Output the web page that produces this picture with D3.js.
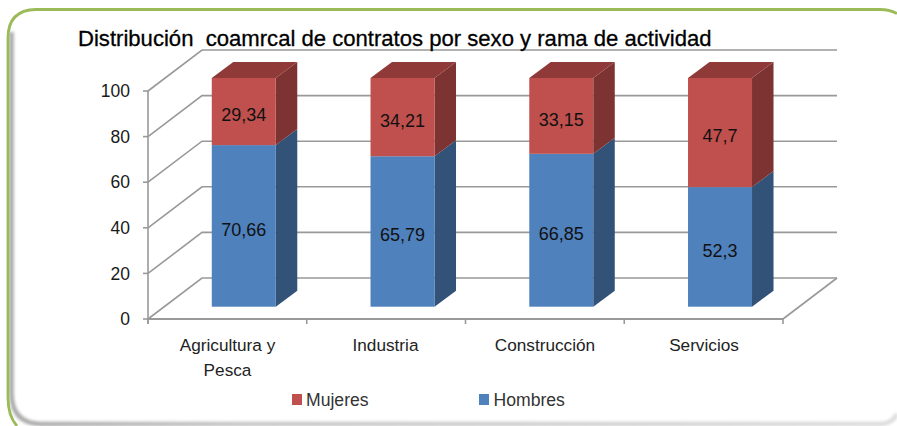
<!DOCTYPE html>
<html><head><meta charset="utf-8">
<script src="https://cdn.jsdelivr.net/npm/d3@7"></script>
<style>html,body{margin:0;padding:0;background:#fff}svg{display:block}text{font-family:"Liberation Sans",Arial,sans-serif}</style>
</head><body><svg id="c" width="897" height="426"></svg>
<script>
const titleText = "Distribución  coamrcal de contratos por sexo y rama de actividad";
const categories = ["Agricultura y|Pesca", "Industria", "Construcción", "Servicios"];
const hombres = [70.66, 65.79, 66.85, 52.3];
const mujeres = [29.34, 34.21, 33.15, 47.7];
const hombresLabels = ["70,66", "65,79", "66,85", "52,3"];
const mujeresLabels = ["29,34", "34,21", "33,15", "47,7"];
const yTicks = [0, 20, 40, 60, 80, 100];

const svg = d3.select("#c");
const defs = svg.append("defs");
const blur = defs.append("filter").attr("id","b").attr("filterUnits","userSpaceOnUse")
  .attr("x",0).attr("y",0).attr("width",897).attr("height",426);
blur.append("feGaussianBlur").attr("stdDeviation",1.6);
const sg = defs.append("linearGradient").attr("id","sg").attr("gradientUnits","userSpaceOnUse")
  .attr("x1",10).attr("x2",897).attr("y1",0).attr("y2",0);
sg.append("stop").attr("offset",0).attr("stop-color","#a8a8a8");
sg.append("stop").attr("offset",0.25).attr("stop-color","#c4c4c4");
sg.append("stop").attr("offset",1).attr("stop-color","#dcdcdc");

// frame
svg.append("path").attr("d","M11.5 32 V394 Q12 423 40 424 H880 Q892 424 897 414")
  .attr("fill","none").attr("stroke","url(#sg)").attr("stroke-width",4.5).attr("filter","url(#b)");
svg.append("path").attr("d","M897 13.5 Q890 9.5 880 9.5 H36 Q8 10 8 38 V398 Q8 416 17 426")
  .attr("fill","none").attr("stroke","#9bbb59").attr("stroke-width",2.8);

const y = d3.scaleLinear().domain([0,100]).range([319,91]);
const barY = d3.scaleLinear().domain([0,100]).range([306.7,78]);
const x = d3.scaleBand().domain(categories).range([148,783]);
const depth = {dx:54, dy:-41}, barDepth = {dx:21.5, dy:-16};
const grid = "#999999";
const barWidth = 64, barShift = 16.4;

// wall gridlines + side wall
const g = svg.append("g").attr("fill","none").attr("stroke",grid).attr("stroke-width",1.6);
yTicks.forEach(t=>{
  g.append("path").attr("d",d3.line()([[x.range()[0],y(t)],[x.range()[0]+depth.dx,y(t)+depth.dy],[x.range()[1]+depth.dx,y(t)+depth.dy]]));
  g.append("line").attr("x1",x.range()[0]-5).attr("x2",x.range()[0]).attr("y1",y(t)).attr("y2",y(t));
});
g.append("line").attr("x1",x.range()[0]).attr("x2",x.range()[0]).attr("y1",y(0)+5).attr("y2",y(100));
g.append("line").attr("x1",x.range()[0]).attr("x2",x.range()[1]).attr("y1",y(0)).attr("y2",y(0)).attr("stroke-width",1.8);
g.append("line").attr("x1",x.range()[1]).attr("x2",x.range()[1]+depth.dx).attr("y1",y(0)).attr("y2",y(0)+depth.dy);
[...categories.map(c=>x(c)),x.range()[1]].forEach(px=>g.append("line").attr("x1",px).attr("x2",px).attr("y1",y(0)).attr("y2",y(0)+5));

// bars
const series = [
 {name:"Hombres", vals:hombres, labels:hombresLabels, front:"#4f81bd", side:"#325277", top:"#3a6090"},
 {name:"Mujeres", vals:mujeres, labels:mujeresLabels, front:"#c0504d", side:"#7d3331", top:"#8f3a38"}
];
categories.forEach((c,i)=>{
  const bg = svg.append("g");
  const x0 = x(c)+(x.bandwidth()-barWidth)/2+barShift, x1 = x0+barWidth;
  let base = 0;
  series.forEach(s=>{
    const v0 = base, v1 = base+s.vals[i];
    const yb = barY(v0), yt = barY(v1);
    bg.append("path").attr("fill",s.side).attr("d",d3.line()([[x1,yb],[x1+barDepth.dx,yb+barDepth.dy],[x1+barDepth.dx,yt+barDepth.dy],[x1,yt]])+"Z");
    if(s.name==="Mujeres") bg.append("path").attr("fill",s.top).attr("d",d3.line()([[x0,yt],[x0+barDepth.dx,yt+barDepth.dy],[x1+barDepth.dx,yt+barDepth.dy],[x1,yt]])+"Z");
    bg.append("rect").attr("x",x0).attr("y",yt).attr("width",barWidth).attr("height",yb-yt).attr("fill",s.front);
    bg.append("text").attr("x",(x0+x1)/2).attr("y",(yb+yt)/2+3.5).attr("dy","0.35em").attr("text-anchor","middle").attr("font-size",18).attr("fill","#111").text(s.labels[i]);
    base = v1;
  });
});

// y tick labels
yTicks.forEach(t=>svg.append("text").attr("x",130).attr("y",y(t)).attr("dy","0.35em").attr("text-anchor","end").attr("font-size",17.5).attr("fill","#1a1a1a").text(t));

// category labels
const catCx = [227.5,385.5,545,704];
categories.forEach((c,i)=>{
  c.split("|").forEach((l,k)=>svg.append("text").attr("x",catCx[i]).attr("y",351+k*25).attr("text-anchor","middle").attr("font-size",17.2).attr("fill","#222").text(l));
});

// title
svg.append("text").attr("x",78).attr("y",46).attr("font-size",22.1).attr("fill","#000").attr("stroke","#000").attr("stroke-width",0.3).style("white-space","pre").text(titleText);

// legend
[{s:series[1],sx:292,tx:306},{s:series[0],sx:479,tx:493.5}].forEach(o=>{
  svg.append("rect").attr("x",o.sx).attr("y",394).attr("width",10).attr("height",11).attr("fill",o.s.front);
  svg.append("text").attr("x",o.tx).attr("y",406).attr("font-size",17.6).attr("fill","#333").text(o.s.name);
});
</script></body></html>
